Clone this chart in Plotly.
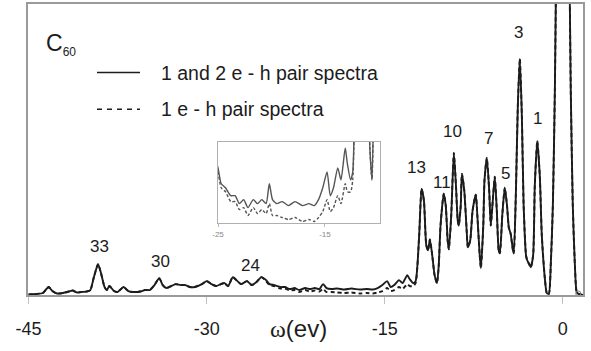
import plotly.graph_objects as go

# ---- data (omega in eV, intensity in arbitrary units) ----
omega = [-45.0, -44.4, -43.8, -43.5, -43.3, -43.0, -42.6, -42.1, -41.6, -41.3, -40.9, -40.6,
         -40.1, -39.8, -39.5, -39.15, -38.9, -38.6, -38.4, -38.2, -37.8, -37.5, -37.0, -36.6,
         -36.2, -35.6, -35.2, -34.8, -34.4, -34.0, -33.7, -33.4, -33.0, -32.6, -32.2, -31.8,
         -31.4, -31.0, -30.4, -30.0, -29.6, -29.2, -28.8, -28.5, -28.2, -27.8, -27.5, -27.1,
         -26.6, -26.2, -25.8, -25.4, -25.0, -24.7, -24.3, -23.8, -23.4, -23.0, -22.6, -22.2,
         -21.7, -21.3, -20.9, -20.5, -20.2, -19.9, -19.5, -19.0, -18.4, -17.8, -17.1, -16.5,
         -16.0, -15.6, -15.2, -14.8, -14.5, -14.2, -13.8, -13.5, -13.1, -12.9, -12.6, -12.4,
         -12.1, -11.9, -11.7, -11.5, -11.35, -11.2, -11.0, -10.8, -10.6, -10.45, -10.3, -10.03,
         -9.86, -9.7, -9.6, -9.4, -9.18, -9.0, -8.85, -8.76, -8.6, -8.5, -8.3, -8.1,
         -8.0, -7.8, -7.6, -7.33, -7.2, -7.0, -6.9, -6.7, -6.6, -6.4, -6.2, -6.07,
         -5.9, -5.73, -5.56, -5.4, -5.3, -5.1, -4.89, -4.7, -4.55, -4.4, -4.2, -4.13,
         -3.96, -3.79, -3.62, -3.45, -3.3, -3.1, -3.0, -2.87, -2.7, -2.5, -2.36, -2.15,
         -1.94, -1.77, -1.5, -1.35, -1.18, -1.01, -0.84, -0.67, -0.51, -0.34, -0.17, 0.0,
         0.17, 0.34, 0.51, 0.67, 0.84, 1.01, 1.18, 1.35, 1.7]

spectrum_1and2_eh = [0.5, 1, 2, 6, 8, 4, 1.5, 2, 3.5, 4.5, 2.5, 3,
                     3.5, 5, 18, 31, 22, 8, 5, 9, 4, 3, 8, 4,
                     3, 3.5, 5, 5, 10, 17, 10, 7, 9, 11, 10, 10,
                     8, 8, 11, 14, 11, 9, 11, 12, 9, 18, 15, 11,
                     14, 10, 13, 18, 15, 11, 10, 8, 8, 6, 7, 5,
                     7, 6, 7, 6, 11, 7, 6, 6.5, 5.5, 6.5, 5.5, 6,
                     5.5, 7, 10, 14, 8, 10, 15, 12, 20, 16, 12, 14,
                     60, 107, 95, 50, 45, 56, 40, 20, 12, 30, 70, 102,
                     90, 55, 46, 80, 143, 110, 75, 70, 90, 122, 105, 65,
                     48, 55, 85, 101, 80, 40, 27, 70, 115, 138, 105, 70,
                     95, 119, 85, 45, 42, 80, 108, 90, 68, 62, 45, 42,
                     100, 190, 238, 180, 90, 40, 35, 32, 28, 40, 110, 155,
                     120, 60, 15, 2, 1, 32, 90, 206, 393, 624, 823, 903,
                     823, 624, 393, 206, 90, 32, 2.5, 1, 0]

spectrum_1_eh = [0.5, 1, 2, 6, 8, 4, 1.5, 2, 3.5, 4.5, 2.5, 3,
                 3.5, 5, 18, 31, 22, 8, 5, 9, 4, 3, 8, 4,
                 3, 3.5, 5, 5, 10, 17, 10, 7, 9, 11, 10, 10,
                 8, 8, 11, 14, 11, 9, 11, 12, 9, 18, 15, 11,
                 14, 10, 13, 18, 14, 10, 9, 6.5, 6.5, 4.5, 5, 3,
                 5, 3.5, 4.5, 3.5, 6, 3, 3, 2.5, 2, 2.5, 1.5, 2,
                 1.5, 2.5, 4, 7, 4, 5, 8, 6, 11, 9, 9, 12,
                 60, 107, 95, 50, 45, 56, 40, 20, 12, 30, 70, 102,
                 90, 55, 46, 80, 143, 110, 75, 70, 90, 122, 105, 65,
                 48, 55, 85, 101, 80, 40, 27, 70, 115, 138, 105, 70,
                 95, 119, 85, 45, 42, 80, 108, 90, 68, 62, 45, 42,
                 100, 190, 238, 180, 90, 40, 35, 32, 28, 40, 110, 155,
                 120, 60, 15, 2, 1, 32, 90, 206, 393, 624, 823, 903,
                 823, 624, 393, 206, 90, 32, 2.5, 1, 0]

peak_labels = ["33", "30", "24", "13", "11", "10", "7", "5", "3", "1"]
peak_label_omega = [-39.0, -33.9, -26.3, -12.3, -10.2, -9.3, -6.3, -4.8, -3.7, -2.1]
peak_label_height = [49, 34, 30, 128, 113, 165, 158, 122, 264, 178]

x_ticks = [-45, -30, -15, 0]
inset_ticks = [-25, -15]

LINE = "#1c1c1c"
FRAME = "#9a9a9a"

fig = go.Figure()

# main curves
fig.add_trace(go.Scatter(x=omega, y=spectrum_1and2_eh, mode="lines",
                         line=dict(color=LINE, width=1.9, shape="spline", smoothing=0.6),
                         name="1 and 2 e - h pair spectra", showlegend=False))
fig.add_trace(go.Scatter(x=omega, y=spectrum_1_eh, mode="lines",
                         line=dict(color=LINE, width=1.9, dash="4px,3px", shape="spline", smoothing=0.6),
                         name="1 e - h pair spectra", showlegend=False))
fig.add_trace(go.Scatter(x=[1.3], y=[1.5], mode="markers",
                         marker=dict(symbol="circle-open", size=5, color="#777"),
                         showlegend=False, hoverinfo="skip"))

# inset curves (zoomed view of same spectra)
fig.add_trace(go.Scatter(x=omega, y=spectrum_1and2_eh, mode="lines", xaxis="x2", yaxis="y2",
                         line=dict(color="#555", width=1.4, shape="spline", smoothing=0.6),
                         showlegend=False))
fig.add_trace(go.Scatter(x=omega, y=spectrum_1_eh, mode="lines", xaxis="x2", yaxis="y2",
                         line=dict(color="#555", width=1.4, dash="3px,2px", shape="spline", smoothing=0.6),
                         showlegend=False))

L, R, T, B = 28, 8, 2, 56
W, H = 591, 351
pw, ph = W - L - R, H - T - B

def px_x(x):
    return (x - L) / pw

def px_y(y):
    return (H - B - y) / ph

fig.update_layout(
    width=W, height=H,
    margin=dict(l=L, r=R, t=T, b=B),
    paper_bgcolor="white", plot_bgcolor="white",
    font=dict(family="Liberation Sans, Arial, sans-serif", color="#1c1c1c", size=17),
    xaxis=dict(range=[-45.05, 1.7], tickvals=x_ticks, ticktext=[str(v) for v in x_ticks],
               ticks="outside", ticklen=7, tickcolor="#c0c0c0", tickwidth=1,
               showline=True, linecolor=FRAME, linewidth=1.5, mirror=True,
               showgrid=False, zeroline=False, tickfont=dict(size=18), ticklabelstandoff=10),
    yaxis=dict(range=[0, 293], showticklabels=False, ticks="", showgrid=False, zeroline=False,
               showline=True, linecolor=FRAME, linewidth=1.5, mirror=True),
    xaxis2=dict(domain=[px_x(218), px_x(380)], anchor="y2", range=[-25, -9.85],
                tickvals=inset_ticks, ticktext=[str(v) for v in inset_ticks],
                ticks="outside", ticklen=3, tickcolor="#bbb", tickfont=dict(size=8, color="#888"),
                showline=True, linecolor="#b0b0b0", linewidth=1, mirror=True,
                showgrid=False, zeroline=False),
    yaxis2=dict(domain=[px_y(223), px_y(141)], anchor="x2", range=[1, 21.5],
                showticklabels=False, ticks="", showgrid=False, zeroline=False,
                showline=True, linecolor="#b0b0b0", linewidth=1, mirror=True),
)

# peak labels
for txt, xo, yh in zip(peak_labels, peak_label_omega, peak_label_height):
    fig.add_annotation(x=xo, y=yh, text=txt, showarrow=False, xref="x", yref="y",
                       xanchor="center", yanchor="middle",
                       font=dict(size=17, color="#1c1c1c"))

# C60 label
fig.add_annotation(x=px_x(44), y=px_y(43), xref="paper", yref="paper",
                   xanchor="left", yanchor="middle",
                   text="C<sub><span style='font-size:12px'>60</span></sub>",
                   showarrow=False, font=dict(size=23))

# legend (drawn)
fig.add_shape(type="line", xref="paper", yref="paper", x0=px_x(97), x1=px_x(140),
              y0=px_y(71), y1=px_y(71), line=dict(color=LINE, width=1.5))
fig.add_shape(type="line", xref="paper", yref="paper", x0=px_x(97), x1=px_x(140),
              y0=px_y(108), y1=px_y(108), line=dict(color=LINE, width=1.5, dash="5px,5px"))
fig.add_annotation(x=px_x(159), y=px_y(71), xref="paper", yref="paper",
                   xanchor="left", yanchor="middle",
                   text="1 and 2 e - h pair spectra", showarrow=False, font=dict(size=19.5))
fig.add_annotation(x=px_x(159), y=px_y(108), xref="paper", yref="paper",
                   xanchor="left", yanchor="middle",
                   text="1 e - h pair spectra", showarrow=False, font=dict(size=19.5))

# x-axis title
fig.add_annotation(x=px_x(298), y=px_y(329), xref="paper", yref="paper",
                   xanchor="center", yanchor="middle",
                   text="<span style='font-family:Liberation Serif'>ω</span>(ev)",
                   showarrow=False, font=dict(size=24))

fig.write_html("out.html", config={"displayModeBar": False},
               post_script="document.body.style.margin='0px';")
